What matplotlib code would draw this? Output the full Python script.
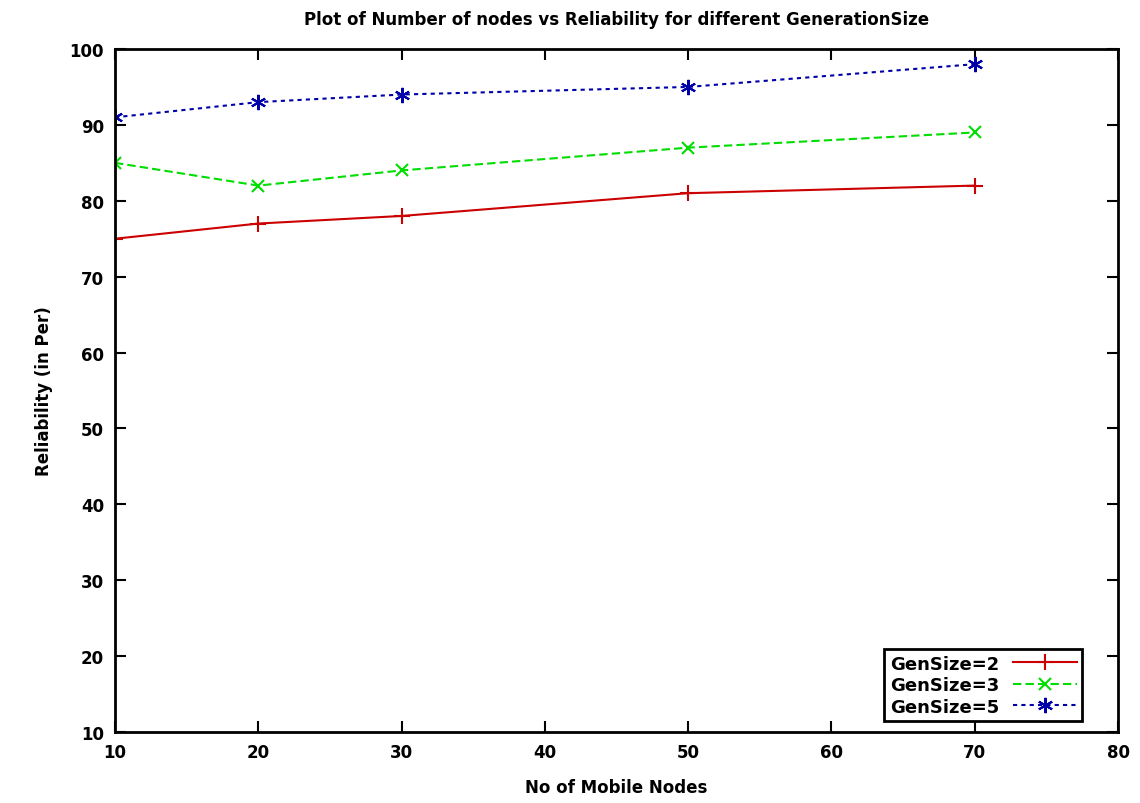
import numpy as np
import matplotlib.pyplot as plt

nodes = [10, 20, 30, 50, 70]
gen2 = [75, 77, 78, 81, 82]
gen3 = [85, 82, 84, 87, 89]
gen5 = [91, 93, 94, 95, 98]

plt.rcParams['font.family'] = 'DejaVu Sans'
plt.rcParams['font.weight'] = 'bold'

fig = plt.figure(figsize=(11.4, 8.04), dpi=100)
ax = fig.add_axes([115/1140, 1-733/804, (1118-115)/1140, (733-50)/804])

ax.plot(nodes, gen2, color='#cc0000', lw=1.5, ls='-', marker='+', ms=12, mew=1.5, label='GenSize=2')
ax.plot(nodes, gen3, color='#00dd00', lw=1.5, ls=(0, (4, 2)), marker='x', ms=9, mew=1.5, label='GenSize=3')
ax.plot(nodes, gen5, color='#0000aa', lw=1.5, ls=(0, (2, 2)), marker=(6, 2, 0), ms=11, mew=1.5, label='GenSize=5')

ax.set_xlim(10, 80)
ax.set_ylim(10, 100)
ax.set_xticks(np.arange(10, 81, 10))
ax.set_yticks(np.arange(10, 101, 10))
ax.tick_params(direction='in', top=True, right=True, length=8, width=1.5, labelsize=12, pad=8)
for s in ax.spines.values():
    s.set_linewidth(2)

ax.set_xlabel('No of Mobile Nodes', fontsize=12, fontweight='bold', labelpad=12)
ax.set_ylabel('Reliability (in Per)', fontsize=12, fontweight='bold', labelpad=12)
ax.set_title('Plot of Number of nodes vs Reliability for different GenerationSize',
             fontsize=12, fontweight='bold', pad=18)

leg = ax.legend(loc='lower right', markerfirst=False, fontsize=13, handlelength=3.5,
                fancybox=False, edgecolor='black', framealpha=1, borderaxespad=0.6,
                labelspacing=0.2, borderpad=0.3, bbox_to_anchor=(0.975, 0.0))
leg.get_frame().set_linewidth(2)

fig.savefig('out.png', dpi=100)
